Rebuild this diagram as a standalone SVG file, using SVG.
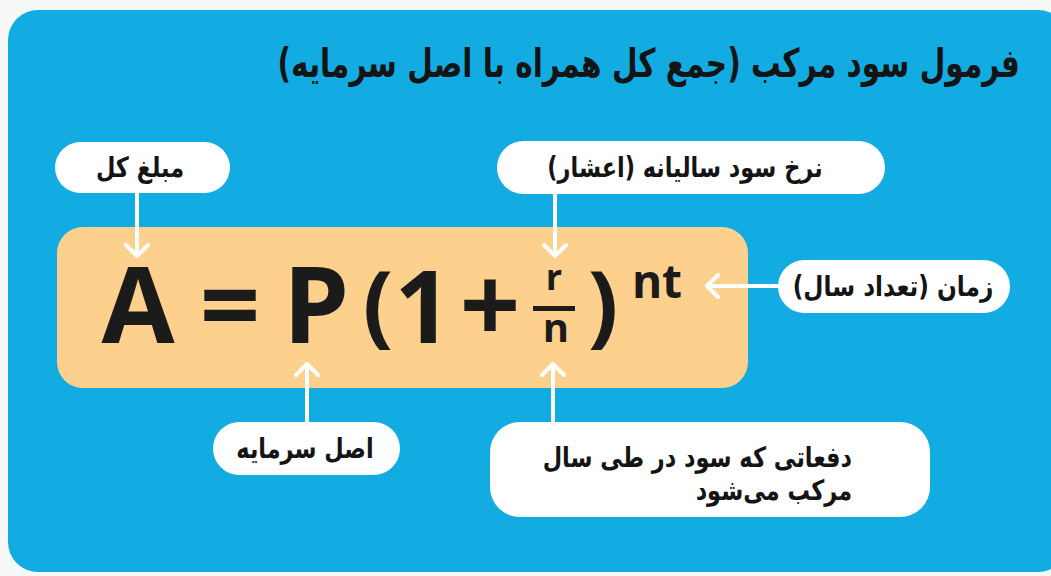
<svg xmlns="http://www.w3.org/2000/svg" width="1051" height="576" viewBox="0 0 1051 576">
  <style>
    .fa { font-family: "DejaVu Sans", "Noto Sans", sans-serif; font-weight: bold; fill: #141414; }
    .pill { fill: #ffffff; }
    .f { font-family: "Open Sans", "Liberation Sans", sans-serif; font-weight: 700; fill: #1b1b1b; }
    .arr { stroke: #ffffff; stroke-width: 4; fill: none; stroke-linecap: round; stroke-linejoin: round; }
  </style>
  <rect x="0" y="0" width="1051" height="576" fill="#f7f8f8"/>
  <rect id="panel" x="8" y="10" width="1060" height="562" rx="30" fill="#13ace2"/>

  <g id="title">
    <text class="fa" transform="translate(1020,77) scale(0.74,1)" x="0" y="0" font-size="40" direction="rtl" text-anchor="start">فرمول سود مرکب (جمع کل همراه با اصل سرمایه)</text>
  </g>

  <g id="formula">
    <rect x="57" y="227" width="691" height="161" rx="26" fill="#fdd08e"/>
    <text class="f" x="138" y="343" font-size="106" text-anchor="middle">A</text>
    <text class="f" x="230" y="343" font-size="106" text-anchor="middle">=</text>
    <text class="f" x="316" y="343" font-size="106" text-anchor="middle">P</text>
    <text class="f" x="378" y="336" font-size="90" text-anchor="middle">(</text>
    <text class="f" x="423" y="343" font-size="100" text-anchor="middle">1</text>
    <text class="f" x="490" y="343" font-size="106" text-anchor="middle">+</text>
    <text class="f" x="554" y="290" font-size="36" text-anchor="middle">r</text>
    <rect x="533" y="306" width="42" height="5" fill="#1b1b1b"/>
    <text class="f" x="556" y="342" font-size="40" text-anchor="middle">n</text>
    <text class="f" x="603" y="336" font-size="90" text-anchor="middle">)</text>
    <text class="f" x="657" y="298" font-size="46" text-anchor="middle">nt</text>
  </g>

  <g id="node-total">
    <rect class="pill" x="55" y="142" width="175" height="51" rx="25.5"/>
    <text class="fa" transform="translate(140,177) scale(0.8,1)" font-size="28" direction="rtl" text-anchor="middle">مبلغ کل</text>
  </g>
  <g id="node-rate">
    <rect class="pill" x="497" y="141" width="388" height="53" rx="26.5"/>
    <text class="fa" transform="translate(685,177) scale(0.8,1)" font-size="28" direction="rtl" text-anchor="middle">نرخ سود سالیانه (اعشار)</text>
  </g>
  <g id="node-time">
    <rect class="pill" x="778" y="260" width="232" height="53" rx="26.5"/>
    <text class="fa" transform="translate(893,296) scale(0.83,1)" font-size="28" direction="rtl" text-anchor="middle">زمان (تعداد سال)</text>
  </g>
  <g id="node-principal">
    <rect class="pill" x="213" y="422" width="187" height="53" rx="26.5"/>
    <text class="fa" transform="translate(305,458) scale(0.8,1)" font-size="28" direction="rtl" text-anchor="middle">اصل سرمایه</text>
  </g>
  <g id="node-times">
    <rect class="pill" x="490" y="422" width="440" height="95" rx="30"/>
    <text class="fa" transform="translate(852,467) scale(0.8,1)" font-size="28" direction="rtl" text-anchor="start">دفعاتی که سود در طی سال</text>
    <text class="fa" transform="translate(852,500) scale(0.8,1)" font-size="28" direction="rtl" text-anchor="start">مرکب می‌شود</text>
  </g>

  <g id="connectors">
    <path class="arr" d="M137 193 V256 M126 245 L137 256 L148 245"/>
    <path class="arr" d="M555 194 V256 M544 245 L555 256 L566 245"/>
    <path class="arr" d="M778 286 H707 M718 275 L707 286 L718 297"/>
    <path class="arr" d="M307 422 V364 M296 375 L307 364 L318 375"/>
    <path class="arr" d="M553 422 V364 M542 375 L553 364 L564 375"/>
  </g>
</svg>
